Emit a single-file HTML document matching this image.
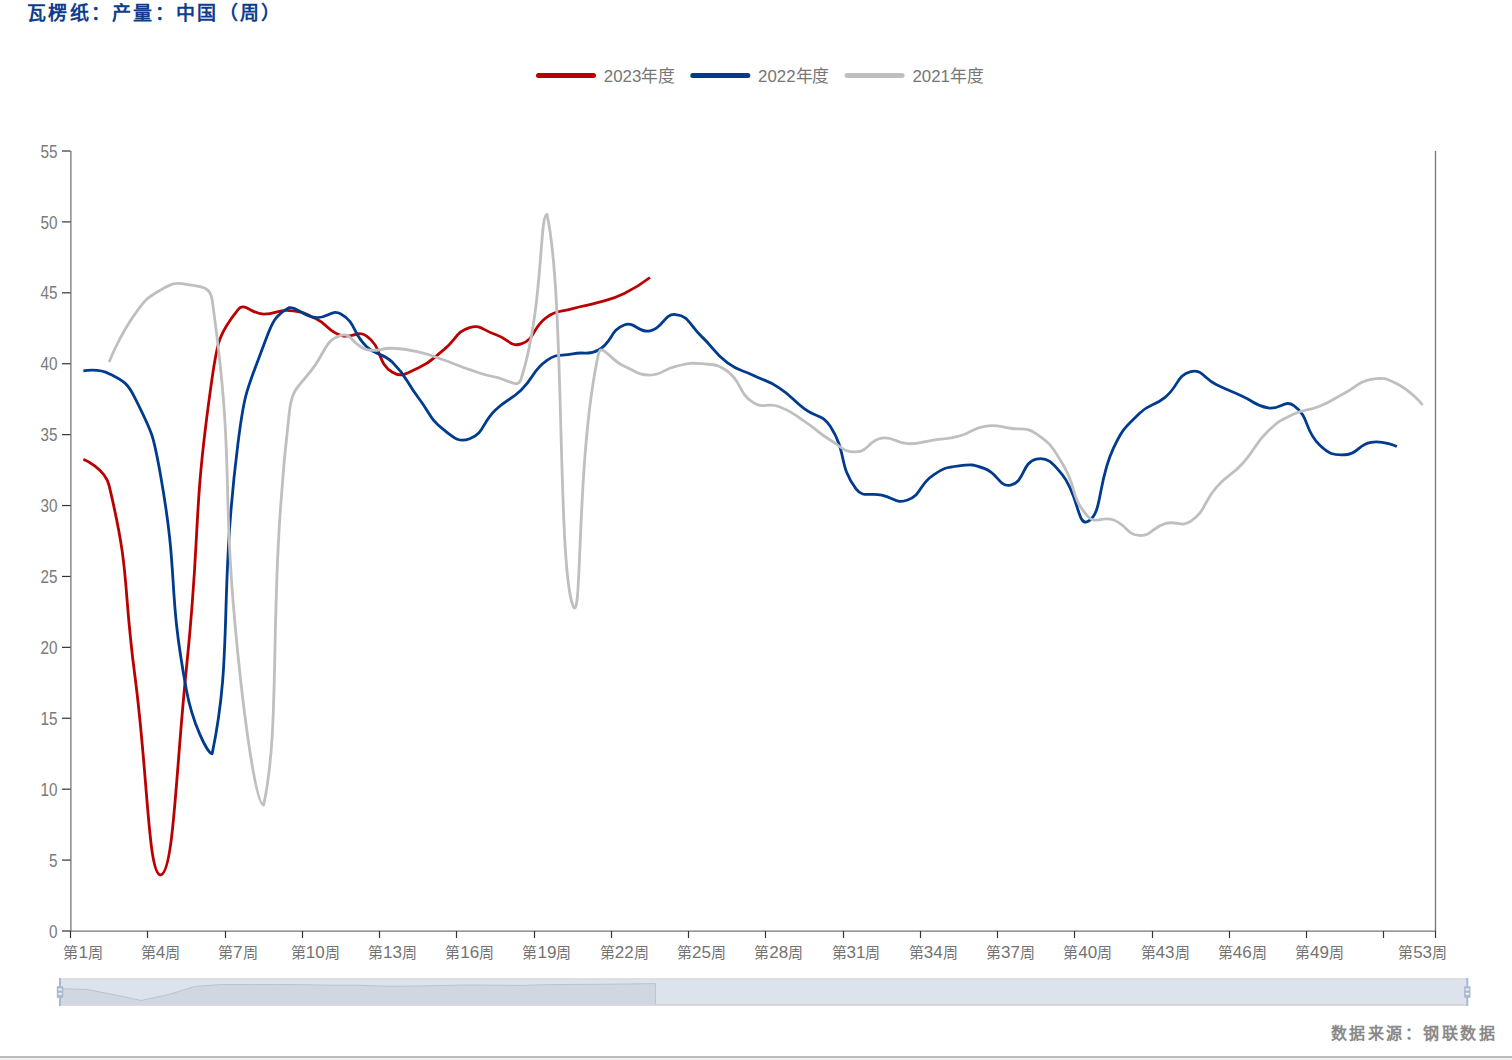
<!DOCTYPE html>
<html lang="zh-CN"><head><meta charset="utf-8">
<style>
html,body{margin:0;padding:0;width:1512px;height:1060px;overflow:hidden;background:#fff;position:relative}
.t{position:absolute;left:27px;top:-2.5px;font-family:"Liberation Serif",serif;font-weight:bold;font-size:19px;letter-spacing:2.3px;color:#0f3d8c;white-space:nowrap}
.src{position:absolute;right:15px;top:1020px;font-family:"Liberation Serif",serif;font-weight:bold;font-size:16px;letter-spacing:2.45px;color:#8a8a8a;white-space:nowrap}
.bl{position:absolute;left:0;top:1056px;width:1512px;height:2px;background:#bdbdbd}
.bl2{position:absolute;left:0;top:1058px;width:1512px;height:2px;background:#f1f1f1}
text{font-family:"Liberation Sans",sans-serif}
.yl{font-size:18px;fill:#7a7a7a}
.xl{font-size:15px;fill:#737373}
.lg{font-size:17px;fill:#767676}
</style></head><body>
<div class="t">瓦楞纸：产量：中国（周）</div>
<svg width="1512" height="1060" viewBox="0 0 1512 1060" style="position:absolute;left:0;top:0">
<line x1="70.9" y1="151" x2="70.9" y2="931.1" stroke="#767676" stroke-width="1.3"/>
<line x1="1435.5" y1="151" x2="1435.5" y2="931.1" stroke="#767676" stroke-width="1.3"/>
<line x1="70.3" y1="931.1" x2="1436.1" y2="931.1" stroke="#767676" stroke-width="1.3"/>
<line x1="62" y1="931.00" x2="70.5" y2="931.00" stroke="#333" stroke-width="1.2"/>
<text x="57.5" y="937.60" text-anchor="end" class="yl" textLength="8.5" lengthAdjust="spacingAndGlyphs">0</text>
<line x1="62" y1="860.09" x2="70.5" y2="860.09" stroke="#333" stroke-width="1.2"/>
<text x="57.5" y="866.69" text-anchor="end" class="yl" textLength="8.5" lengthAdjust="spacingAndGlyphs">5</text>
<line x1="62" y1="789.18" x2="70.5" y2="789.18" stroke="#333" stroke-width="1.2"/>
<text x="57.5" y="795.78" text-anchor="end" class="yl" textLength="17.0" lengthAdjust="spacingAndGlyphs">10</text>
<line x1="62" y1="718.27" x2="70.5" y2="718.27" stroke="#333" stroke-width="1.2"/>
<text x="57.5" y="724.87" text-anchor="end" class="yl" textLength="17.0" lengthAdjust="spacingAndGlyphs">15</text>
<line x1="62" y1="647.36" x2="70.5" y2="647.36" stroke="#333" stroke-width="1.2"/>
<text x="57.5" y="653.96" text-anchor="end" class="yl" textLength="17.0" lengthAdjust="spacingAndGlyphs">20</text>
<line x1="62" y1="576.45" x2="70.5" y2="576.45" stroke="#333" stroke-width="1.2"/>
<text x="57.5" y="583.05" text-anchor="end" class="yl" textLength="17.0" lengthAdjust="spacingAndGlyphs">25</text>
<line x1="62" y1="505.55" x2="70.5" y2="505.55" stroke="#333" stroke-width="1.2"/>
<text x="57.5" y="512.15" text-anchor="end" class="yl" textLength="17.0" lengthAdjust="spacingAndGlyphs">30</text>
<line x1="62" y1="434.64" x2="70.5" y2="434.64" stroke="#333" stroke-width="1.2"/>
<text x="57.5" y="441.24" text-anchor="end" class="yl" textLength="17.0" lengthAdjust="spacingAndGlyphs">35</text>
<line x1="62" y1="363.73" x2="70.5" y2="363.73" stroke="#333" stroke-width="1.2"/>
<text x="57.5" y="370.33" text-anchor="end" class="yl" textLength="17.0" lengthAdjust="spacingAndGlyphs">40</text>
<line x1="62" y1="292.82" x2="70.5" y2="292.82" stroke="#333" stroke-width="1.2"/>
<text x="57.5" y="299.42" text-anchor="end" class="yl" textLength="17.0" lengthAdjust="spacingAndGlyphs">45</text>
<line x1="62" y1="221.91" x2="70.5" y2="221.91" stroke="#333" stroke-width="1.2"/>
<text x="57.5" y="228.51" text-anchor="end" class="yl" textLength="17.0" lengthAdjust="spacingAndGlyphs">50</text>
<line x1="62" y1="151.00" x2="70.5" y2="151.00" stroke="#333" stroke-width="1.2"/>
<text x="57.5" y="157.60" text-anchor="end" class="yl" textLength="17.0" lengthAdjust="spacingAndGlyphs">55</text>
<line x1="70.50" y1="931" x2="70.50" y2="938" stroke="#333" stroke-width="1.2"/>
<line x1="147.50" y1="931" x2="147.50" y2="938" stroke="#333" stroke-width="1.2"/>
<line x1="225.50" y1="931" x2="225.50" y2="938" stroke="#333" stroke-width="1.2"/>
<line x1="302.50" y1="931" x2="302.50" y2="938" stroke="#333" stroke-width="1.2"/>
<line x1="379.50" y1="931" x2="379.50" y2="938" stroke="#333" stroke-width="1.2"/>
<line x1="456.50" y1="931" x2="456.50" y2="938" stroke="#333" stroke-width="1.2"/>
<line x1="534.50" y1="931" x2="534.50" y2="938" stroke="#333" stroke-width="1.2"/>
<line x1="611.50" y1="931" x2="611.50" y2="938" stroke="#333" stroke-width="1.2"/>
<line x1="688.50" y1="931" x2="688.50" y2="938" stroke="#333" stroke-width="1.2"/>
<line x1="765.50" y1="931" x2="765.50" y2="938" stroke="#333" stroke-width="1.2"/>
<line x1="843.50" y1="931" x2="843.50" y2="938" stroke="#333" stroke-width="1.2"/>
<line x1="920.50" y1="931" x2="920.50" y2="938" stroke="#333" stroke-width="1.2"/>
<line x1="997.50" y1="931" x2="997.50" y2="938" stroke="#333" stroke-width="1.2"/>
<line x1="1074.50" y1="931" x2="1074.50" y2="938" stroke="#333" stroke-width="1.2"/>
<line x1="1152.50" y1="931" x2="1152.50" y2="938" stroke="#333" stroke-width="1.2"/>
<line x1="1229.50" y1="931" x2="1229.50" y2="938" stroke="#333" stroke-width="1.2"/>
<line x1="1306.50" y1="931" x2="1306.50" y2="938" stroke="#333" stroke-width="1.2"/>
<line x1="1383.50" y1="931" x2="1383.50" y2="938" stroke="#333" stroke-width="1.2"/>
<line x1="1435.50" y1="931" x2="1435.50" y2="938" stroke="#333" stroke-width="1.2"/>
<text x="83.38" y="957.5" text-anchor="middle" class="xl" textLength="40.0" lengthAdjust="spacingAndGlyphs">第<tspan style="font-size:17px">1</tspan>周</text>
<text x="160.64" y="957.5" text-anchor="middle" class="xl" textLength="40.0" lengthAdjust="spacingAndGlyphs">第<tspan style="font-size:17px">4</tspan>周</text>
<text x="237.91" y="957.5" text-anchor="middle" class="xl" textLength="40.0" lengthAdjust="spacingAndGlyphs">第<tspan style="font-size:17px">7</tspan>周</text>
<text x="315.17" y="957.5" text-anchor="middle" class="xl" textLength="49.0" lengthAdjust="spacingAndGlyphs">第<tspan style="font-size:17px">10</tspan>周</text>
<text x="392.43" y="957.5" text-anchor="middle" class="xl" textLength="49.0" lengthAdjust="spacingAndGlyphs">第<tspan style="font-size:17px">13</tspan>周</text>
<text x="469.70" y="957.5" text-anchor="middle" class="xl" textLength="49.0" lengthAdjust="spacingAndGlyphs">第<tspan style="font-size:17px">16</tspan>周</text>
<text x="546.96" y="957.5" text-anchor="middle" class="xl" textLength="49.0" lengthAdjust="spacingAndGlyphs">第<tspan style="font-size:17px">19</tspan>周</text>
<text x="624.23" y="957.5" text-anchor="middle" class="xl" textLength="49.0" lengthAdjust="spacingAndGlyphs">第<tspan style="font-size:17px">22</tspan>周</text>
<text x="701.49" y="957.5" text-anchor="middle" class="xl" textLength="49.0" lengthAdjust="spacingAndGlyphs">第<tspan style="font-size:17px">25</tspan>周</text>
<text x="778.75" y="957.5" text-anchor="middle" class="xl" textLength="49.0" lengthAdjust="spacingAndGlyphs">第<tspan style="font-size:17px">28</tspan>周</text>
<text x="856.02" y="957.5" text-anchor="middle" class="xl" textLength="49.0" lengthAdjust="spacingAndGlyphs">第<tspan style="font-size:17px">31</tspan>周</text>
<text x="933.28" y="957.5" text-anchor="middle" class="xl" textLength="49.0" lengthAdjust="spacingAndGlyphs">第<tspan style="font-size:17px">34</tspan>周</text>
<text x="1010.55" y="957.5" text-anchor="middle" class="xl" textLength="49.0" lengthAdjust="spacingAndGlyphs">第<tspan style="font-size:17px">37</tspan>周</text>
<text x="1087.81" y="957.5" text-anchor="middle" class="xl" textLength="49.0" lengthAdjust="spacingAndGlyphs">第<tspan style="font-size:17px">40</tspan>周</text>
<text x="1165.08" y="957.5" text-anchor="middle" class="xl" textLength="49.0" lengthAdjust="spacingAndGlyphs">第<tspan style="font-size:17px">43</tspan>周</text>
<text x="1242.34" y="957.5" text-anchor="middle" class="xl" textLength="49.0" lengthAdjust="spacingAndGlyphs">第<tspan style="font-size:17px">46</tspan>周</text>
<text x="1319.60" y="957.5" text-anchor="middle" class="xl" textLength="49.0" lengthAdjust="spacingAndGlyphs">第<tspan style="font-size:17px">49</tspan>周</text>
<text x="1422.62" y="957.5" text-anchor="middle" class="xl" textLength="49.0" lengthAdjust="spacingAndGlyphs">第<tspan style="font-size:17px">53</tspan>周</text>
<path d="M83.38 459.31 C83.38 459.31 104.98 468.24 109.13 485.69 C130.73 576.45 122.31 580.67 134.89 675.73 C148.06 775.31 147.99 874.98 160.64 874.98 C173.74 873.18 175.68 772.04 186.40 668.64 C201.44 523.50 191.54 521.50 212.15 377.91 C217.29 342.10 218.95 333.32 237.91 309.84 C244.70 301.41 250.76 313.91 263.66 314.09 C276.51 314.27 276.76 309.50 289.42 310.55 C302.51 311.63 303.17 312.57 315.17 318.35 C328.93 324.98 326.89 330.53 340.92 335.36 C352.64 339.40 357.22 329.30 366.68 336.07 C382.98 347.74 376.22 362.19 392.43 372.24 C401.97 378.14 406.55 373.11 418.19 367.98 C432.31 361.76 431.50 359.31 443.94 349.55 C457.25 339.10 455.29 331.77 469.70 327.56 C481.05 324.25 482.75 330.49 495.45 334.51 C508.50 338.64 510.28 347.57 521.21 343.87 C536.03 338.85 532.06 327.24 546.96 317.07 C557.82 309.66 559.70 312.39 572.72 308.70 C585.45 305.09 585.78 306.20 598.47 302.46 C611.53 298.61 612.04 299.43 624.23 293.53 C637.79 286.95 649.98 277.50 649.98 277.50" fill="none" stroke="#bb0002" stroke-width="2.8" stroke-linejoin="round"/>
<path d="M83.38 370.82 C83.38 370.82 98.23 367.95 109.13 373.65 C123.98 381.42 127.15 382.42 134.89 397.76 C152.90 433.48 153.54 435.48 160.64 475.76 C179.29 581.55 166.87 584.55 186.40 689.91 C192.63 723.53 207.48 753.73 212.15 753.73 C233.24 652.99 218.51 597.68 237.91 443.85 C244.26 393.46 245.88 392.34 263.66 345.29 C271.63 324.20 273.36 316.23 289.42 307.57 C299.12 307.57 301.90 315.81 315.17 317.49 C327.66 319.08 331.02 308.47 340.92 314.09 C356.77 323.08 351.74 332.73 366.68 346.71 C377.50 356.84 381.91 351.94 392.43 362.31 C407.67 377.32 404.99 380.14 418.19 397.48 C430.74 413.97 428.40 417.50 443.94 429.96 C454.15 438.13 459.05 442.88 469.70 438.75 C484.81 432.88 481.49 423.19 495.45 409.96 C507.24 398.79 509.52 401.22 521.21 389.96 C535.28 376.40 531.60 371.11 546.96 360.32 C557.36 353.03 559.71 356.41 572.72 353.80 C585.46 351.24 587.64 356.03 598.47 349.97 C613.39 341.63 609.40 330.48 624.23 325.01 C635.15 320.98 638.04 333.40 649.98 330.97 C663.79 328.15 663.50 313.24 675.74 314.52 C689.26 315.93 689.18 324.83 701.49 336.36 C714.93 348.94 712.75 351.80 727.25 362.73 C738.50 371.23 740.11 369.00 753.00 375.21 C765.86 381.41 766.88 379.81 778.75 387.55 C792.64 396.61 791.17 398.80 804.51 408.83 C816.93 418.16 822.15 413.67 830.26 426.27 C847.91 453.66 837.51 464.10 856.02 488.81 C863.27 498.49 868.83 492.24 881.77 495.05 C894.58 497.84 896.65 504.24 907.53 500.01 C922.40 494.24 918.67 484.75 933.28 475.05 C944.43 467.66 945.81 467.48 959.04 465.84 C971.57 464.28 972.98 464.25 984.79 468.67 C998.73 473.89 998.84 487.32 1010.55 485.12 C1024.59 482.49 1022.13 461.99 1036.30 459.03 C1047.88 456.61 1052.84 463.16 1062.06 474.35 C1078.60 494.43 1077.31 526.98 1087.81 521.57 C1103.06 513.72 1096.94 482.70 1113.57 447.83 C1122.70 428.67 1124.25 428.28 1139.32 413.51 C1150.00 403.04 1153.36 406.88 1165.08 397.34 C1179.12 385.89 1176.47 375.05 1190.83 371.53 C1202.23 368.73 1203.54 378.47 1216.58 384.72 C1229.30 390.81 1229.49 390.40 1242.34 396.20 C1255.24 402.03 1254.63 405.53 1268.09 407.97 C1280.39 410.21 1284.72 399.00 1293.85 405.56 C1310.47 417.51 1303.36 429.47 1319.60 444.99 C1329.11 454.07 1332.73 455.44 1345.36 454.77 C1358.48 454.09 1357.64 444.45 1371.11 442.29 C1383.40 440.33 1396.87 446.55 1396.87 446.55" fill="none" stroke="#003b8e" stroke-width="2.8" stroke-linejoin="round"/>
<path d="M109.13 362.03 C109.13 362.03 119.26 335.94 134.89 314.09 C145.02 299.92 145.90 298.50 160.64 289.98 C171.66 283.61 174.37 281.99 186.40 284.31 C200.13 286.96 210.14 285.46 212.15 299.91 C235.89 470.53 219.89 477.81 237.91 654.45 C245.65 730.38 256.47 805.07 263.66 805.07 C282.23 717.40 266.70 605.24 289.42 411.24 C292.45 385.28 300.42 386.88 315.17 365.15 C326.17 348.94 326.18 339.83 340.92 335.36 C351.93 332.03 352.96 346.11 366.68 349.55 C378.71 352.56 379.61 347.67 392.43 348.27 C405.37 348.87 405.55 349.07 418.19 351.96 C431.30 354.95 431.19 355.65 443.94 360.04 C456.94 364.51 456.65 365.37 469.70 369.68 C482.41 373.88 482.34 374.75 495.45 377.06 C508.09 379.29 517.75 389.68 521.21 378.76 C543.50 308.35 539.28 214.39 546.96 214.39 C565.04 293.82 557.06 562.73 572.72 605.10 C582.82 632.44 575.34 461.06 598.47 353.80 C601.09 341.65 611.03 360.83 624.23 366.28 C636.78 371.46 637.10 375.07 649.98 375.07 C662.86 375.07 662.54 369.19 675.74 366.28 C688.29 363.51 688.84 362.51 701.49 363.73 C714.60 364.99 716.98 363.52 727.25 371.24 C742.73 382.88 737.34 391.71 753.00 402.44 C763.10 409.36 766.71 402.15 778.75 406.56 C792.46 411.58 792.08 413.23 804.51 421.31 C817.84 429.97 816.65 431.93 830.26 440.03 C842.40 447.24 843.34 452.43 856.02 451.94 C869.09 451.43 868.23 440.20 881.77 438.04 C893.98 436.09 894.56 443.21 907.53 443.71 C920.32 444.21 920.41 441.90 933.28 440.03 C946.17 438.15 946.54 439.54 959.04 436.20 C972.29 432.66 971.49 428.32 984.79 426.27 C997.24 424.35 997.80 426.39 1010.55 428.25 C1023.55 430.15 1025.91 426.78 1036.30 433.79 C1051.67 444.15 1051.84 446.63 1062.06 463.00 C1077.59 487.90 1069.92 496.52 1087.81 516.32 C1095.67 525.02 1101.61 515.57 1113.57 520.01 C1127.37 525.14 1126.08 534.56 1139.32 535.47 C1151.83 536.33 1151.60 527.30 1165.08 523.56 C1177.36 520.14 1181.11 528.02 1190.83 521.15 C1206.87 509.80 1202.40 502.93 1216.58 487.11 C1228.15 474.21 1230.60 476.47 1242.34 463.71 C1256.36 448.46 1253.33 445.36 1268.09 431.09 C1279.09 420.47 1280.06 420.57 1293.85 413.93 C1305.82 408.16 1307.25 411.38 1319.60 406.27 C1333.00 400.74 1332.44 399.38 1345.36 392.66 C1358.19 385.98 1357.57 381.82 1371.11 379.47 C1383.33 377.35 1385.57 378.12 1396.87 383.72 C1411.33 390.89 1422.62 405.00 1422.62 405.00" fill="none" stroke="#bfbfbf" stroke-width="2.8" stroke-linejoin="round"/>
<line x1="538.5" y1="75.5" x2="593.5" y2="75.5" stroke="#bb0002" stroke-width="5" stroke-linecap="round"/>
<text x="603.8" y="81.5" class="lg" textLength="71.2" lengthAdjust="spacingAndGlyphs">2023年度</text>
<line x1="692.8" y1="75.5" x2="747.8" y2="75.5" stroke="#003b8e" stroke-width="5" stroke-linecap="round"/>
<text x="758.1" y="81.5" class="lg" textLength="71.2" lengthAdjust="spacingAndGlyphs">2022年度</text>
<line x1="847.1" y1="75.5" x2="902.1" y2="75.5" stroke="#bfbfbf" stroke-width="5" stroke-linecap="round"/>
<text x="912.4" y="81.5" class="lg" textLength="71.2" lengthAdjust="spacingAndGlyphs">2021年度</text>
<rect x="60" y="978.5" width="1407.3" height="27" fill="#dde3ec"/>
<path d="M60.00 1005.50 L60.00 988.70 L87.06 989.44 L114.13 994.81 L141.19 1000.44 L168.25 994.61 L195.32 986.40 L222.38 984.48 L249.44 984.60 L276.51 984.50 L303.57 984.72 L330.63 985.20 L357.70 985.22 L384.76 986.24 L411.82 986.12 L438.89 985.60 L465.95 984.98 L493.02 985.17 L520.08 985.44 L547.14 984.68 L574.21 984.44 L601.27 984.27 L628.33 984.02 L655.40 983.56 L655.40 1005.50 Z" fill="#d0d7e1"/>
<path d="M60.00 988.70 L87.06 989.44 L114.13 994.81 L141.19 1000.44 L168.25 994.61 L195.32 986.40 L222.38 984.48 L249.44 984.60 L276.51 984.50 L303.57 984.72 L330.63 985.20 L357.70 985.22 L384.76 986.24 L411.82 986.12 L438.89 985.60 L465.95 984.98 L493.02 985.17 L520.08 985.44 L547.14 984.68 L574.21 984.44 L601.27 984.27 L628.33 984.02 L655.40 983.56 L655.40 1005.00 L1467.30 1005.00" fill="none" stroke="#b9c3d1" stroke-width="1"/>
<line x1="60" y1="978.8" x2="1467.3" y2="978.8" stroke="#d9d9d9" stroke-width="1.2"/>
<line x1="60" y1="1005.2" x2="1467.3" y2="1005.2" stroke="#d9d9d9" stroke-width="1.2"/>
<line x1="60.0" y1="978" x2="60.0" y2="1006" stroke="#a9b9cf" stroke-width="2"/>
<rect x="56.8" y="986.2" width="6.4" height="11.6" fill="#a9b9cf"/>
<rect x="58.3" y="988.5" width="3.5" height="2" fill="#fff" opacity="0.8"/>
<rect x="58.3" y="992.8" width="3.5" height="2" fill="#fff" opacity="0.8"/>
<line x1="1467.3" y1="978" x2="1467.3" y2="1006" stroke="#a9b9cf" stroke-width="2"/>
<rect x="1464.1" y="986.2" width="6.4" height="11.6" fill="#a9b9cf"/>
<rect x="1465.6" y="988.5" width="3.5" height="2" fill="#fff" opacity="0.8"/>
<rect x="1465.6" y="992.8" width="3.5" height="2" fill="#fff" opacity="0.8"/>
</svg>
<div class="src">数据来源：钢联数据</div>
<div class="bl"></div><div class="bl2"></div>
</body></html>
